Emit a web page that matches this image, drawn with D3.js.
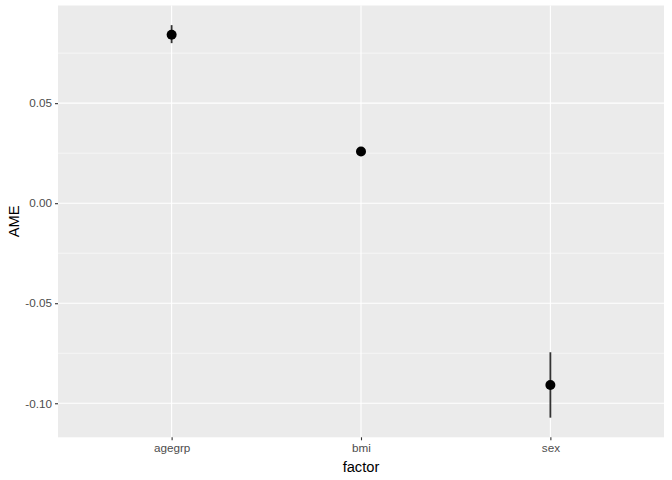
<!DOCTYPE html>
<html>
<head>
<meta charset="utf-8">
<script src="https://cdn.jsdelivr.net/npm/d3@7"></script>
<style>
  body { margin: 0; background: #fff; }
  svg { display: block; font-family: "Liberation Sans", Arial, sans-serif; }
</style>
</head>
<body>
<div id="chart"></div>
<script>
// factors and their average marginal effects
const factors = ["agegrp", "bmi", "sex"];
const ame = [0.0842, 0.0258, -0.0909];
const lower = [0.0800, 0.0248, -0.1072];
const upper = [0.0890, 0.0268, -0.0745];
const yTicks = [-0.10, -0.05, 0.00, 0.05];
const yMinor = [-0.075, -0.025, 0.025, 0.075];

const W = 672, H = 480;
const margin = {top: 5.5, right: 8, bottom: 42.7, left: 58};
const width = W - margin.left - margin.right,
      height = H - margin.top - margin.bottom;

const svg = d3.select("#chart").append("svg")
    .attr("width", W)
    .attr("height", H);

const g = svg.append("g")
    .attr("transform", "translate(" + margin.left + "," + margin.top + ")");

// x: discrete scale with ggplot-like 0.6 expansion
const x = d3.scalePoint()
    .domain(factors)
    .range([0, width])
    .padding(0.6);

// y: continuous with 5% expansion
const lo = d3.min(lower), hi = d3.max(upper);
const pad = (hi - lo) * 0.05;
const y = d3.scaleLinear()
    .domain([lo - pad, hi + pad])
    .range([height, 0]);

// panel background
g.append("rect")
    .attr("width", width)
    .attr("height", height)
    .attr("fill", "#EBEBEB");

// minor grid
g.selectAll(".minor")
    .data(yMinor.filter(d => d >= y.domain()[0] && d <= y.domain()[1]))
    .enter().append("line")
    .attr("x1", 0).attr("x2", width)
    .attr("y1", d => y(d)).attr("y2", d => y(d))
    .attr("stroke", "#fff")
    .attr("stroke-width", 0.55);

// major grid
g.selectAll(".majorY")
    .data(yTicks)
    .enter().append("line")
    .attr("x1", 0).attr("x2", width)
    .attr("y1", d => y(d)).attr("y2", d => y(d))
    .attr("stroke", "#fff")
    .attr("stroke-width", 1.1);

g.selectAll(".majorX")
    .data(factors)
    .enter().append("line")
    .attr("x1", d => x(d)).attr("x2", d => x(d))
    .attr("y1", 0).attr("y2", height)
    .attr("stroke", "#fff")
    .attr("stroke-width", 1.1);

// y axis
const yAxis = g.append("g")
    .call(d3.axisLeft(y).tickValues(yTicks).tickSize(3).tickPadding(3)
        .tickFormat(d3.format(".2f")));
yAxis.select(".domain").remove();
yAxis.selectAll("line").attr("stroke", "#333").attr("stroke-width", 1.1);
yAxis.selectAll("text")
    .attr("fill", "#4D4D4D")
    .style("font-size", "11.7px")
    .text(d => d3.format(".2f")(d).replace("−", "-"));

// x axis
const xAxis = g.append("g")
    .attr("transform", "translate(0," + height + ")")
    .call(d3.axisBottom(x).tickSize(3).tickPadding(3));
xAxis.select(".domain").remove();
xAxis.selectAll("line").attr("stroke", "#333").attr("stroke-width", 1.1);
xAxis.selectAll("text")
    .attr("fill", "#4D4D4D")
    .style("font-size", "11.7px");

// axis titles
svg.append("text")
    .attr("x", margin.left + width / 2)
    .attr("y", H - 8)
    .attr("text-anchor", "middle")
    .style("font-size", "14.7px")
    .attr("fill", "#000")
    .text("factor");

svg.append("text")
    .attr("transform", "translate(19," + (margin.top + height / 2) + ") rotate(-90)")
    .attr("text-anchor", "middle")
    .style("font-size", "14.7px")
    .attr("fill", "#000")
    .text("AME");

// point ranges
const rows = factors.map((f, i) => ({f: f, v: ame[i], lo: lower[i], hi: upper[i]}));

g.selectAll(".range")
    .data(rows)
    .enter().append("line")
    .attr("x1", d => x(d.f)).attr("x2", d => x(d.f))
    .attr("y1", d => y(d.lo)).attr("y2", d => y(d.hi))
    .attr("stroke", "#333")
    .attr("stroke-width", 1.8);

g.selectAll(".pt")
    .data(rows)
    .enter().append("circle")
    .attr("cx", d => x(d.f))
    .attr("cy", d => y(d.v))
    .attr("r", 5)
    .attr("fill", "#000");
</script>
</body>
</html>
